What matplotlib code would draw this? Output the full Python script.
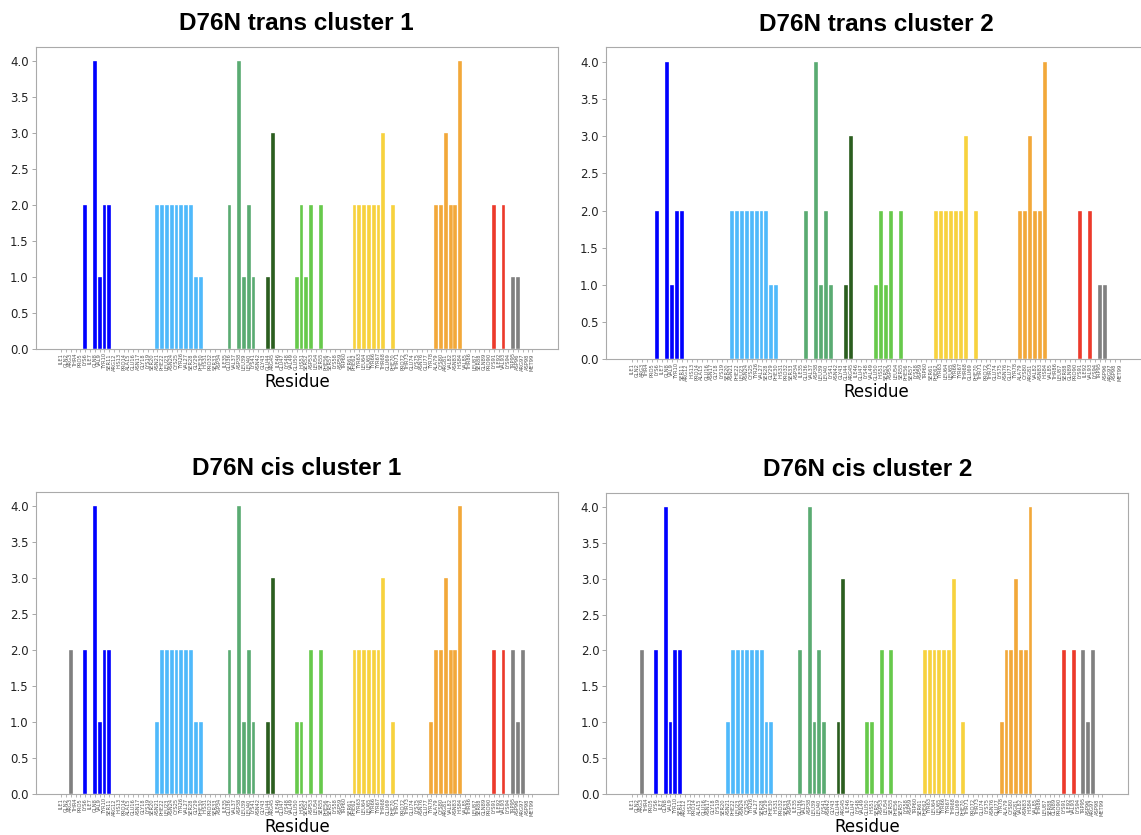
import matplotlib
matplotlib.use('Agg')
import matplotlib.pyplot as plt
import numpy as np

# beta-2-microglobulin, D76N mutant
sequence = ('IQRTPKIQVYSRHPAENGKSNFLNCYVSGFHPSDIEVDLLKNGERIEKVE'
            'HSDLSFSKDWSFYLLYYTEFTPTEKNEYACRVNHVTLSQPKIVKWDRDM')
three = {'A': 'ALA', 'R': 'ARG', 'N': 'ASN', 'D': 'ASP', 'C': 'CYS',
         'E': 'GLU', 'Q': 'GLN', 'G': 'GLY', 'H': 'HIS', 'I': 'ILE',
         'L': 'LEU', 'K': 'LYS', 'M': 'MET', 'F': 'PHE', 'P': 'PRO',
         'S': 'SER', 'T': 'THR', 'W': 'TRP', 'Y': 'TYR', 'V': 'VAL'}
residue_labels = [three[a] + str(i + 1) for i, a in enumerate(sequence)]

# strands (first, last residue) and their colours; everything else grey
strand_ranges = [(6, 11), (21, 30), (36, 41), (44, 45), (50, 55),
                 (62, 70), (78, 84), (91, 93)]
strand_colors = ['#0000ff', '#4fb9fb', '#5aab72', '#2b5e1f', '#67c94b',
                 '#f7d23e', '#f2a83a', '#ec3a2b']
loop_color = '#808080'

trans1_res = [6, 8, 9, 10, 11, 21, 22, 23, 24, 25, 26, 27, 28, 29, 30,
              36, 38, 39, 40, 41, 44, 45, 50, 51, 52, 53, 55,
              62, 63, 64, 65, 66, 67, 68, 70, 79, 80, 81, 82, 83, 84,
              91, 93, 95, 96]
trans1_cnt = [2, 4, 1, 2, 2, 2, 2, 2, 2, 2, 2, 2, 2, 1, 1,
              2, 4, 1, 2, 1, 1, 3, 1, 2, 1, 2, 2,
              2, 2, 2, 2, 2, 2, 3, 2, 2, 2, 3, 2, 2, 4,
              2, 2, 1, 1]

trans2_res = [6, 8, 9, 10, 11, 21, 22, 23, 24, 25, 26, 27, 28, 29, 30,
              36, 38, 39, 40, 41, 44, 45, 50, 51, 52, 53, 55,
              62, 63, 64, 65, 66, 67, 68, 70, 79, 80, 81, 82, 83, 84,
              91, 93, 95, 96]
trans2_cnt = [2, 4, 1, 2, 2, 2, 2, 2, 2, 2, 2, 2, 2, 1, 1,
              2, 4, 1, 2, 1, 1, 3, 1, 2, 1, 2, 2,
              2, 2, 2, 2, 2, 2, 3, 2, 2, 2, 3, 2, 2, 4,
              2, 2, 1, 1]

cis1_res = [3, 6, 8, 9, 10, 11, 21, 22, 23, 24, 25, 26, 27, 28, 29, 30,
            36, 38, 39, 40, 41, 44, 45, 50, 51, 53, 55,
            62, 63, 64, 65, 66, 67, 68, 70, 78, 79, 80, 81, 82, 83, 84,
            91, 93, 95, 96, 97]
cis1_cnt = [2, 2, 4, 1, 2, 2, 1, 2, 2, 2, 2, 2, 2, 2, 1, 1,
            2, 4, 1, 2, 1, 1, 3, 1, 1, 2, 2,
            2, 2, 2, 2, 2, 2, 3, 1, 1, 2, 2, 3, 2, 2, 4,
            2, 2, 2, 1, 2]

cis2_res = [3, 6, 8, 9, 10, 11, 21, 22, 23, 24, 25, 26, 27, 28, 29, 30,
            36, 38, 39, 40, 41, 44, 45, 50, 51, 53, 55,
            62, 63, 64, 65, 66, 67, 68, 70, 78, 79, 80, 81, 82, 83, 84,
            91, 93, 95, 96, 97]
cis2_cnt = [2, 2, 4, 1, 2, 2, 1, 2, 2, 2, 2, 2, 2, 2, 1, 1,
            2, 4, 1, 2, 1, 1, 3, 1, 1, 2, 2,
            2, 2, 2, 2, 2, 2, 3, 1, 1, 2, 2, 3, 2, 2, 4,
            2, 2, 2, 1, 2]

titles = ['D76N trans cluster 1', 'D76N trans cluster 2',
          'D76N cis cluster 1', 'D76N cis cluster 2']


def residue_color(r):
    for (first, last), c in zip(strand_ranges, strand_colors):
        if first <= r <= last:
            return c
    return loop_color


W, H = 1141, 835
fig = plt.figure(figsize=(W / 100, H / 100), dpi=100)

# axes boxes in pixels: left, bottom(from top), width, height
boxes = [(35.5, 349, 522.5, 302.0),
         (605.5, 359, 541.0, 311.8),
         (35.5, 794, 522.5, 302.4),
         (606.4, 794, 521.7, 301.4)]
panels = [(trans1_res, trans1_cnt), (trans2_res, trans2_cnt),
          (cis1_res, cis1_cnt), (cis2_res, cis2_cnt)]

for (left, bottom, w, h), (res, cnt), title in zip(boxes, panels, titles):
    ax = fig.add_axes([left / W, (H - bottom) / H, w / W, h / H])
    x = np.array(res) - 1
    ax.bar(x, cnt, width=0.8, color=[residue_color(r) for r in res],
           edgecolor='white', linewidth=0.25)
    ax.set_xlim(-5.34, 103.34)
    ax.set_ylim(0, 4.2)
    ax.set_yticks(np.arange(0, 4.01, 0.5))
    ax.set_yticklabels(['%.1f' % v for v in np.arange(0, 4.01, 0.5)],
                       fontsize=8.5, color='#222222')
    ax.set_xticks(range(len(residue_labels)))
    ax.set_xticklabels(residue_labels, rotation=90, fontsize=3.7,
                       color='#555555')
    ax.tick_params(axis='x', length=2, width=0.5, color='#999999', pad=1)
    ax.tick_params(axis='y', length=3, width=0.6, color='#999999', pad=2)
    for sp in ax.spines.values():
        sp.set_color('#aaaaaa')
        sp.set_linewidth(0.8)
    ax.set_xlabel('Residue', fontsize=12, labelpad=1.5)
    ax.set_title(title, fontsize=17.5, fontweight='bold',
                 family='Liberation Sans', pad=12)

fig.savefig('out.png', dpi=100)
